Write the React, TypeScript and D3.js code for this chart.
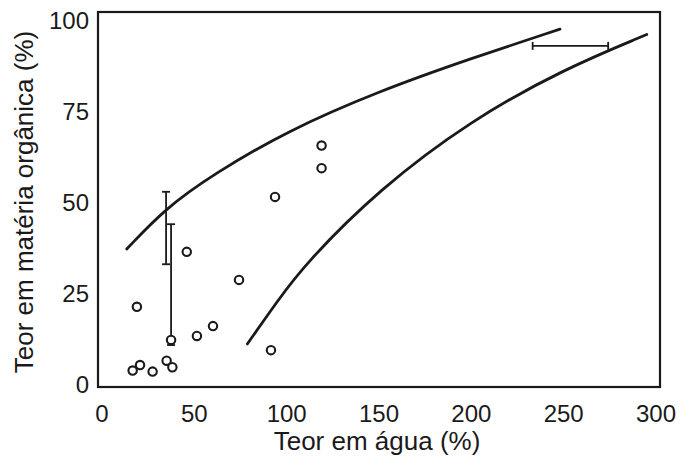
import React, { useEffect, useRef } from 'react';
import * as d3 from 'd3';

// water content (%) vs organic matter content (%)
const pointsX = [93.7, 45.9, 74.2, 18.9, 60.1, 51.4, 37.4, 91.5, 35.0, 38.1, 20.6, 16.6, 27.4, 118.9, 118.9];
const pointsY = [51.4, 36.3, 28.6, 21.2, 15.9, 13.2, 12.1, 9.3, 6.4, 4.6, 5.2, 3.7, 3.4, 65.5, 59.3];

// upper and lower boundary curves
const upperX = [13.4, 34.7, 60, 100, 150, 200, 248];
const upperY = [37.1, 48.4, 57.5, 69.5, 80.5, 89.5, 97.5];
const lowerX = [78.7, 95, 110, 150, 200, 250, 295];
const lowerY = [11.0, 22.8, 33.0, 53.5, 72.5, 86.5, 96.0];

// vertical error bars: x, low, high
const vBarX = [34.7, 37.4];
const vBarLow = [32.9, 10.7];
const vBarHigh = [52.8, 43.9];
// horizontal error bar: y, low, high
const hBarY = [92.9];
const hBarLow = [233.2];
const hBarHigh = [274.1];

const xTicks = [0, 50, 100, 150, 200, 250, 300];
const yTicks = [0, 25, 50, 75, 100];

const W = 681;
const H = 459;
const FONT = '"Liberation Sans", Arial, sans-serif';
const INK = '#1a1a1a';

export default function App() {
  const ref = useRef<SVGSVGElement>(null);

  useEffect(() => {
    const svg = d3.select(ref.current);
    svg.selectAll('*').remove();

    const x = d3.scaleLinear().domain([0, 300]).range([102, 656]);
    const y = d3.scaleLinear().domain([0, 100]).range([384, 20]);

    // frame
    svg.append('rect')
      .attr('x', 98).attr('y', 12)
      .attr('width', 562).attr('height', 375)
      .attr('fill', 'none').attr('stroke', INK).attr('stroke-width', 2.2);

    // curves
    const line = d3.line<[number, number]>()
      .x(d => x(d[0])).y(d => y(d[1]))
      .curve(d3.curveBasis);
    const curves = [
      upperX.map((v, i) => [v, upperY[i]] as [number, number]),
      lowerX.map((v, i) => [v, lowerY[i]] as [number, number]),
    ];
    svg.selectAll('path.curve')
      .data(curves)
      .enter()
      .append('path')
      .attr('class', 'curve')
      .attr('d', d => line(d))
      .attr('fill', 'none')
      .attr('stroke', INK)
      .attr('stroke-width', 2.8)
      .attr('stroke-linecap', 'round');

    // vertical error bars
    const cap = 4;
    vBarX.forEach((v, i) => {
      const g = svg.append('g').attr('stroke', INK).attr('stroke-width', 1.8);
      g.append('line').attr('x1', x(v)).attr('x2', x(v)).attr('y1', y(vBarLow[i])).attr('y2', y(vBarHigh[i]));
      [vBarLow[i], vBarHigh[i]].forEach(e => {
        g.append('line').attr('x1', x(v) - cap).attr('x2', x(v) + cap).attr('y1', y(e)).attr('y2', y(e));
      });
    });

    // horizontal error bar
    hBarY.forEach((v, i) => {
      const g = svg.append('g').attr('stroke', INK).attr('stroke-width', 1.8);
      g.append('line').attr('x1', x(hBarLow[i])).attr('x2', x(hBarHigh[i])).attr('y1', y(v)).attr('y2', y(v));
      [hBarLow[i], hBarHigh[i]].forEach(e => {
        g.append('line').attr('x1', x(e)).attr('x2', x(e)).attr('y1', y(v) - cap).attr('y2', y(v) + cap);
      });
    });

    // data points
    svg.selectAll('circle')
      .data(pointsX)
      .enter()
      .append('circle')
      .attr('cx', d => x(d))
      .attr('cy', (d, i) => y(pointsY[i]))
      .attr('r', 4.2)
      .attr('fill', 'white')
      .attr('stroke', INK)
      .attr('stroke-width', 2.1);

    // tick labels
    svg.selectAll('text.xt')
      .data(xTicks)
      .enter()
      .append('text')
      .attr('class', 'xt')
      .attr('x', d => x(d))
      .attr('y', 422)
      .attr('text-anchor', 'middle')
      .style('font-family', FONT).style('font-size', '24px').style('fill', INK)
      .text(d => d);

    svg.selectAll('text.yt')
      .data(yTicks)
      .enter()
      .append('text')
      .attr('class', 'yt')
      .attr('x', 89)
      .attr('y', d => y(d) + 8.5)
      .attr('text-anchor', 'end')
      .style('font-family', FONT).style('font-size', '24px').style('fill', INK)
      .text(d => d);

    // axis titles
    svg.append('text')
      .attr('x', 377).attr('y', 450)
      .attr('text-anchor', 'middle')
      .style('font-family', FONT).style('font-size', '26px').style('fill', INK)
      .text('Teor em água (%)');

    svg.append('text')
      .attr('transform', 'translate(33,202) rotate(-90)')
      .attr('text-anchor', 'middle')
      .style('font-family', FONT).style('font-size', '26px').style('fill', INK)
      .text('Teor em matéria orgânica (%)');
  }, []);

  return (
    <svg ref={ref} width={W} height={H}
      style={{ position: 'absolute', left: 0, top: 0, background: 'white' }} />
  );
}
